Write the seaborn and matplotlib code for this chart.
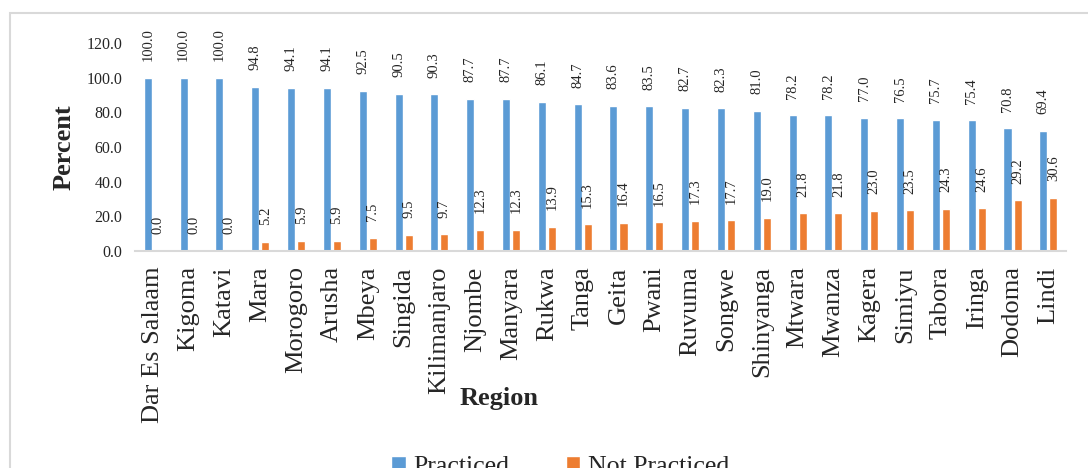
import matplotlib
matplotlib.use("Agg")
import matplotlib.pyplot as plt
import matplotlib.patches as mpatches
import pandas as pd
import seaborn as sns

REGIONS = ["Dar Es Salaam", "Kigoma", "Katavi", "Mara", "Morogoro", "Arusha",
           "Mbeya", "Singida", "Kilimanjaro", "Njombe", "Manyara", "Rukwa",
           "Tanga", "Geita", "Pwani", "Ruvuma", "Songwe", "Shinyanga", "Mtwara",
           "Mwanza", "Kagera", "Simiyu", "Tabora", "Iringa", "Dodoma", "Lindi"]
PRACTICED = [100.0, 100.0, 100.0, 94.8, 94.1, 94.1, 92.5, 90.5, 90.3, 87.7,
             87.7, 86.1, 84.7, 83.6, 83.5, 82.7, 82.3, 81.0, 78.2, 78.2, 77.0,
             76.5, 75.7, 75.4, 70.8, 69.4]
NOT_PRACTICED = [0.0, 0.0, 0.0, 5.2, 5.9, 5.9, 7.5, 9.5, 9.7, 12.3, 12.3, 13.9,
                 15.3, 16.4, 16.5, 17.3, 17.7, 19.0, 21.8, 21.8, 23.0, 23.5,
                 24.3, 24.6, 29.2, 30.6]
SERIES = ["Practiced", "Not Practiced"]
COLORS = ["#5B9BD5", "#ED7D31"]
Y_TICKS = [0, 20, 40, 60, 80, 100, 120]

sns.set_style("white")
plt.rcParams["font.family"] = ["Liberation Serif", "DejaVu Serif"]

df = pd.concat([
    pd.DataFrame({"Region": REGIONS, "Status": SERIES[0], "Percent": PRACTICED}),
    pd.DataFrame({"Region": REGIONS, "Status": SERIES[1], "Percent": NOT_PRACTICED}),
])

fig = plt.figure(figsize=(10.88, 4.68), dpi=100)
ax = fig.add_axes([0.124, 0.4637, 0.856, 0.4444])

sns.barplot(data=df, x="Region", y="Percent", hue="Status", hue_order=SERIES,
            palette=COLORS, width=0.56, gap=0.2, ax=ax, errorbar=None,
            saturation=1)

for cont in ax.containers:
    ax.bar_label(cont, fmt="%.1f", rotation=90, padding=12, fontsize=10.5)

ax.set_ylim(0, 120)
ax.set_xlim(-0.5, len(REGIONS) - 0.5)
ax.set_yticks(Y_TICKS)
ax.set_yticklabels([f"{v:.1f}" for v in Y_TICKS], fontsize=11.5)
ax.tick_params(axis="y", length=0, pad=9)
ax.tick_params(axis="x", length=0, pad=11, labelsize=19, rotation=90)

for s in ["left", "top", "right"]:
    ax.spines[s].set_visible(False)
ax.spines["bottom"].set_color("#d9d9d9")
ax.spines["bottom"].set_linewidth(1.5)

ax.set_ylabel("Percent", fontsize=19, fontweight="bold")
ax.yaxis.set_label_coords(-0.064, 0.5)
ax.set_xlabel("Region", fontsize=19, fontweight="bold")
ax.xaxis.set_label_coords(0.391, -0.655)

handles, labels = ax.get_legend_handles_labels()
ax.get_legend().remove()
fig.legend(handles, labels, loc="upper center", bbox_to_anchor=(0.515, 1 - 438 / 468),
           ncol=2, frameon=False, fontsize=18.6, handlelength=0.55, handleheight=0.55,
           handletextpad=0.3, columnspacing=2.2, borderpad=0.2)

# light frame around the chart area
fig.patches.append(mpatches.Rectangle((10 / 1088, -0.1), 1.2, 1.1 - 13 / 468,
                                      transform=fig.transFigure, fill=False,
                                      edgecolor="#d9d9d9", linewidth=1.5))

fig.savefig("out.png", dpi=100)
